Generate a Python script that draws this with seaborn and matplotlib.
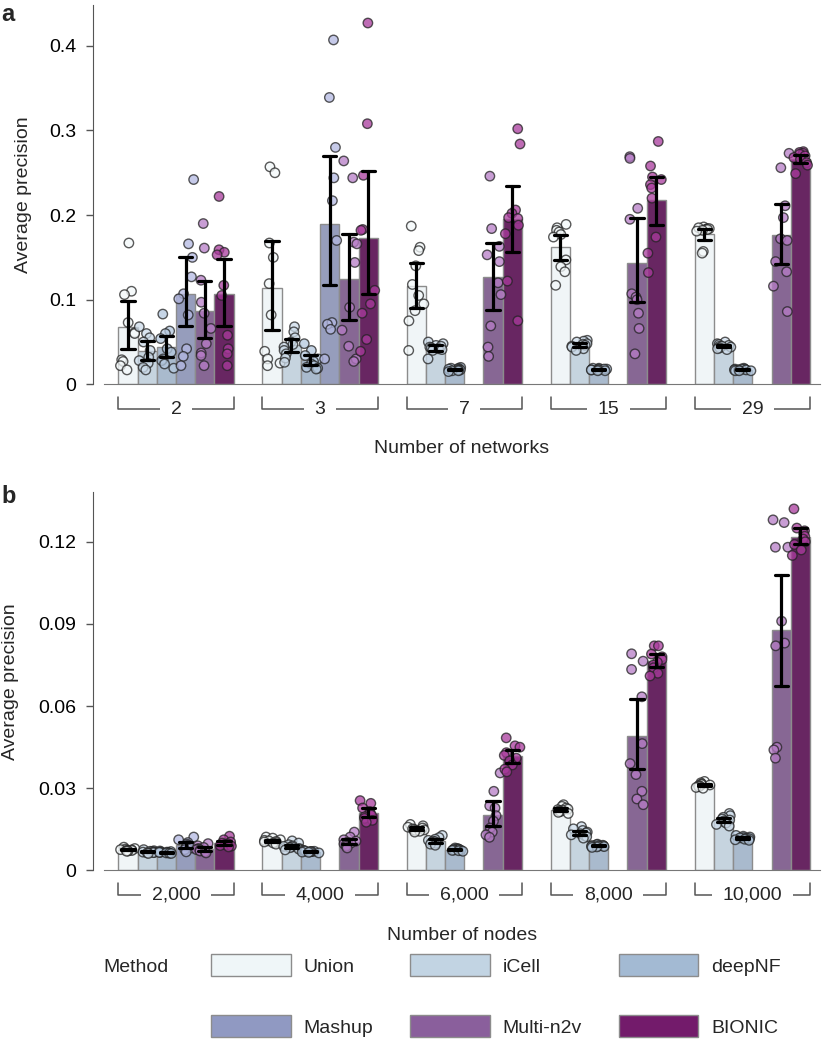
import numpy as np
import pandas as pd
import matplotlib
matplotlib.use("Agg")
import matplotlib.pyplot as plt
import matplotlib.transforms as mtransforms
from matplotlib.patches import Patch
import seaborn as sns

# ================================
# Data
# ================================
methods = ["Union", "iCell", "deepNF", "Mashup", "Multi-n2v", "BIONIC"]
networks = ["2", "3", "7", "15", "29"]
nodes = ["2,000", "4,000", "6,000", "8,000", "10,000"]

# panel a: average precision per network count (10 runs each)
a_union = [[0.167, 0.110, 0.106, 0.073, 0.061, 0.060, 0.029, 0.027, 0.022, 0.017],
           [0.257, 0.250, 0.167, 0.150, 0.119, 0.082, 0.039, 0.030, 0.025, 0.022],
           [0.187, 0.162, 0.158, 0.140, 0.118, 0.105, 0.095, 0.087, 0.075, 0.040],
           [0.189, 0.185, 0.182, 0.180, 0.177, 0.174, 0.147, 0.139, 0.133, 0.117],
           [0.186, 0.185, 0.184, 0.184, 0.183, 0.183, 0.182, 0.181, 0.157, 0.155]]
a_icell = [[0.068, 0.060, 0.055, 0.050, 0.040, 0.032, 0.028, 0.025, 0.020, 0.017],
           [0.068, 0.062, 0.055, 0.050, 0.047, 0.044, 0.040, 0.036, 0.031, 0.026],
           [0.050, 0.048, 0.046, 0.045, 0.044, 0.043, 0.042, 0.041, 0.040, 0.030],
           [0.052, 0.051, 0.050, 0.048, 0.047, 0.046, 0.045, 0.044, 0.042, 0.040],
           [0.050, 0.048, 0.047, 0.046, 0.045, 0.045, 0.044, 0.043, 0.042, 0.041]]
a_deepnf = [[0.083, 0.063, 0.060, 0.054, 0.042, 0.038, 0.030, 0.028, 0.024, 0.019],
            [0.048, 0.040, 0.034, 0.030, 0.027, 0.024, 0.022, 0.020, 0.019, 0.018],
            [0.020, 0.019, 0.019, 0.018, 0.018, 0.017, 0.017, 0.016, 0.016, 0.015],
            [0.019, 0.019, 0.018, 0.018, 0.018, 0.017, 0.017, 0.017, 0.016, 0.016],
            [0.019, 0.018, 0.018, 0.018, 0.017, 0.017, 0.017, 0.016, 0.016, 0.016]]
a_mashup = [[0.242, 0.166, 0.150, 0.127, 0.107, 0.101, 0.082, 0.042, 0.033, 0.022],
            [0.407, 0.339, 0.280, 0.244, 0.217, 0.170, 0.073, 0.071, 0.065, 0.030],
            [], [], []]
a_multin2v = [[0.190, 0.161, 0.123, 0.097, 0.084, 0.066, 0.048, 0.037, 0.034, 0.022],
              [0.264, 0.244, 0.168, 0.166, 0.144, 0.091, 0.064, 0.045, 0.030, 0.027],
              [0.246, 0.184, 0.163, 0.153, 0.145, 0.120, 0.106, 0.069, 0.044, 0.033],
              [0.269, 0.267, 0.208, 0.195, 0.107, 0.103, 0.100, 0.084, 0.066, 0.036],
              [0.273, 0.256, 0.211, 0.197, 0.172, 0.170, 0.145, 0.133, 0.116, 0.086]]
a_bionic = [[0.222, 0.159, 0.156, 0.153, 0.117, 0.105, 0.058, 0.042, 0.036, 0.022],
            [0.427, 0.308, 0.247, 0.183, 0.182, 0.111, 0.095, 0.084, 0.053, 0.039],
            [0.302, 0.284, 0.206, 0.202, 0.197, 0.196, 0.188, 0.178, 0.122, 0.075],
            [0.287, 0.258, 0.245, 0.242, 0.236, 0.232, 0.220, 0.174, 0.155, 0.132],
            [0.275, 0.274, 0.273, 0.272, 0.270, 0.268, 0.266, 0.262, 0.259, 0.249]]

# panel b: average precision per node count
b_union = [[0.0085, 0.0080, 0.0078, 0.0076, 0.0075, 0.0074, 0.0073, 0.0072, 0.0071, 0.0070],
           [0.0122, 0.0118, 0.0112, 0.0110, 0.0108, 0.0106, 0.0104, 0.0102, 0.0100, 0.0096],
           [0.0168, 0.0163, 0.0158, 0.0155, 0.0152, 0.0150, 0.0148, 0.0146, 0.0143, 0.0140],
           [0.0240, 0.0234, 0.0228, 0.0224, 0.0222, 0.0220, 0.0218, 0.0215, 0.0212, 0.0208],
           [0.0325, 0.0320, 0.0316, 0.0314, 0.0312, 0.0310, 0.0308, 0.0306, 0.0303, 0.0300]]
b_icell = [[0.0076, 0.0072, 0.0070, 0.0069, 0.0068, 0.0067, 0.0066, 0.0065, 0.0064, 0.0062],
           [0.0108, 0.0100, 0.0094, 0.0090, 0.0088, 0.0086, 0.0083, 0.0080, 0.0078, 0.0075],
           [0.0128, 0.0120, 0.0114, 0.0110, 0.0107, 0.0105, 0.0102, 0.0099, 0.0096, 0.0092],
           [0.0160, 0.0152, 0.0146, 0.0140, 0.0137, 0.0134, 0.0130, 0.0127, 0.0123, 0.0118],
           [0.0208, 0.0200, 0.0194, 0.0188, 0.0184, 0.0181, 0.0177, 0.0173, 0.0168, 0.0162]]
b_deepnf = [[0.0071, 0.0069, 0.0068, 0.0067, 0.0066, 0.0066, 0.0065, 0.0064, 0.0063, 0.0062],
            [0.0074, 0.0072, 0.0071, 0.0070, 0.0069, 0.0069, 0.0068, 0.0067, 0.0066, 0.0064],
            [0.0082, 0.0080, 0.0078, 0.0077, 0.0076, 0.0075, 0.0074, 0.0073, 0.0072, 0.0070],
            [0.0096, 0.0094, 0.0092, 0.0091, 0.0090, 0.0089, 0.0088, 0.0087, 0.0086, 0.0084],
            [0.0128, 0.0125, 0.0122, 0.0120, 0.0119, 0.0118, 0.0116, 0.0114, 0.0112, 0.0110]]
b_mashup = [[0.0122, 0.0112, 0.0102, 0.0096, 0.0092, 0.0089, 0.0086, 0.0082, 0.0076, 0.0068],
            [], [], [], []]
b_multin2v = [[0.0098, 0.0090, 0.0084, 0.0080, 0.0078, 0.0076, 0.0074, 0.0071, 0.0068, 0.0064],
              [0.0140, 0.0122, 0.0112, 0.0107, 0.0103, 0.0100, 0.0097, 0.0093, 0.0088, 0.0082],
              [0.0356, 0.0289, 0.0236, 0.0228, 0.0200, 0.0180, 0.0155, 0.0140, 0.0130, 0.0121],
              [0.0791, 0.0764, 0.0734, 0.0634, 0.0463, 0.0390, 0.0350, 0.0289, 0.0261, 0.0240],
              [0.128, 0.127, 0.118, 0.118, 0.091, 0.083, 0.082, 0.045, 0.044, 0.041]]
b_bionic = [[0.0125, 0.0112, 0.0104, 0.0100, 0.0097, 0.0095, 0.0093, 0.0091, 0.0089, 0.0086],
            [0.0255, 0.0245, 0.0228, 0.0215, 0.0208, 0.0202, 0.0196, 0.0190, 0.0183, 0.0176],
            [0.0484, 0.0455, 0.0450, 0.0430, 0.0420, 0.0410, 0.0400, 0.0385, 0.0370, 0.0360],
            [0.082, 0.082, 0.079, 0.078, 0.077, 0.076, 0.075, 0.074, 0.072, 0.071],
            [0.132, 0.125, 0.124, 0.123, 0.122, 0.121, 0.120, 0.119, 0.117, 0.115]]

a_ticks = [0, 0.1, 0.2, 0.3, 0.4]
a_ticklabels = ["0", "0.1", "0.2", "0.3", "0.4"]
b_ticks = [0, 0.03, 0.06, 0.09, 0.12]
b_ticklabels = ["0", "0.03", "0.06", "0.09", "0.12"]

bar_colors = ["#eff6f8", "#c2d4e3", "#a3bad3", "#9099c2", "#8a5f9c", "#731b6b"]
point_colors = ["#f4f9fa", "#cddcea", "#b4c8de", "#b4b9e2", "#b67cc6", "#a93b9c"]


def to_frame(groups, per_method):
    rows = []
    for m, vals in zip(methods, per_method):
        for g, runs in zip(groups, vals):
            for v in runs:
                rows.append((g, m, v))
    return pd.DataFrame(rows, columns=["group", "method", "ap"])


df_a = to_frame(networks, [a_union, a_icell, a_deepnf, a_mashup, a_multin2v, a_bionic])
df_b = to_frame(nodes, [b_union, b_icell, b_deepnf, b_mashup, b_multin2v, b_bionic])

# ================================
# Style
# ================================
sns.set_style("ticks")
plt.rcParams["font.family"] = ["Liberation Sans", "DejaVu Sans"]
plt.rcParams["axes.edgecolor"] = "#555555"
FS = 14
np.random.seed(3)

fig = plt.figure(figsize=(8.24, 10.5), dpi=100)
ax_a = fig.add_axes([0.1262, 0.634, 0.869, 0.361])
ax_b = fig.add_axes([0.1262, 0.171, 0.869, 0.360])


def panel(ax, df, groups, ticks, ticklabels, ymax, xlabel, ylab_x, xlab_y):
    sns.barplot(data=df, x="group", y="ap", hue="method", order=groups,
                hue_order=methods, palette=bar_colors, errorbar=("ci", 95),
                seed=0, n_boot=2000, capsize=0.55, edgecolor="#8c8c8c",
                linewidth=1, err_kws={"color": "black", "linewidth": 2.3},
                legend=False, ax=ax)
    sns.stripplot(data=df, x="group", y="ap", hue="method", order=groups,
                  hue_order=methods, palette=point_colors, dodge=True,
                  jitter=0.35, size=6.8, alpha=0.75, edgecolor="#222222",
                  linewidth=1, legend=False, ax=ax)
    for ln in ax.lines:
        ln.set_zorder(5)

    # spine offset first: it resets the tick objects
    sns.despine(ax=ax)
    ax.spines["left"].set_position(("outward", 8))
    ax.spines["bottom"].set_color("#777777")

    ax.set_ylim(0, ymax)
    ax.set_xlim(-0.5, 4.47)
    ax.set_xticks([])
    ax.set_yticks(ticks)
    ax.set_yticklabels(ticklabels)
    ax.tick_params(axis="y", length=5, width=1, color="#555555", pad=7,
                   labelsize=FS, labelcolor="black")

    ax.set_ylabel("Average precision", fontsize=FS)
    ax.yaxis.set_label_coords(ylab_x, 0.5)
    ax.set_xlabel(xlabel, fontsize=FS)
    ax.xaxis.set_label_coords(0.5, xlab_y)

    # bracket-style group labels under the bars
    h_px = ax.get_position().height * fig.get_figheight() * fig.dpi
    trans = mtransforms.blended_transform_factory(ax.transData, ax.transAxes)
    y_top = -12.5 / h_px
    y_bot = -25.0 / h_px
    for i, g in enumerate(groups):
        x0, x1 = i - 0.4, i + 0.4
        ax.plot([x0, x0, x1, x1], [y_top, y_bot, y_bot, y_top], color="#555555",
                lw=1.1, transform=trans, clip_on=False, zorder=2)
        ax.text(i, y_bot, g, transform=trans, ha="center", va="center",
                fontsize=FS, zorder=3,
                bbox=dict(boxstyle="square,pad=0.55", fc="white", ec="none"))


panel(ax_a, df_a, networks, a_ticks, a_ticklabels, 0.448, "Number of networks", -0.1, -0.146)
panel(ax_b, df_b, nodes, b_ticks, b_ticklabels, 0.138, "Number of nodes", -0.118, -0.15)

fig.text(0.002, 0.997, "a", fontsize=17, fontweight="bold", va="top")
fig.text(0.002, 0.538, "b", fontsize=17, fontweight="bold", va="top")

# legend: row-wise order Union/iCell/deepNF, Mashup/Multi-n2v/BIONIC
handles = [Patch(facecolor=c, edgecolor="#8c8c8c", linewidth=1, label=m)
           for m, c in zip(methods, bar_colors)]
order = [0, 3, 1, 4, 2, 5]
fig.legend([handles[i] for i in order], [methods[i] for i in order],
           ncol=3, loc="upper left", bbox_to_anchor=(0.256, 0.091),
           frameon=False, fontsize=FS, handlelength=4.1, handleheight=1.35,
           handletextpad=0.65, columnspacing=1.9, labelspacing=2.0,
           borderpad=0, borderaxespad=0)
fig.text(0.125, 1 - 968 / 1050, "Method", fontsize=FS, va="center")

fig.savefig("out.png", dpi=100)
